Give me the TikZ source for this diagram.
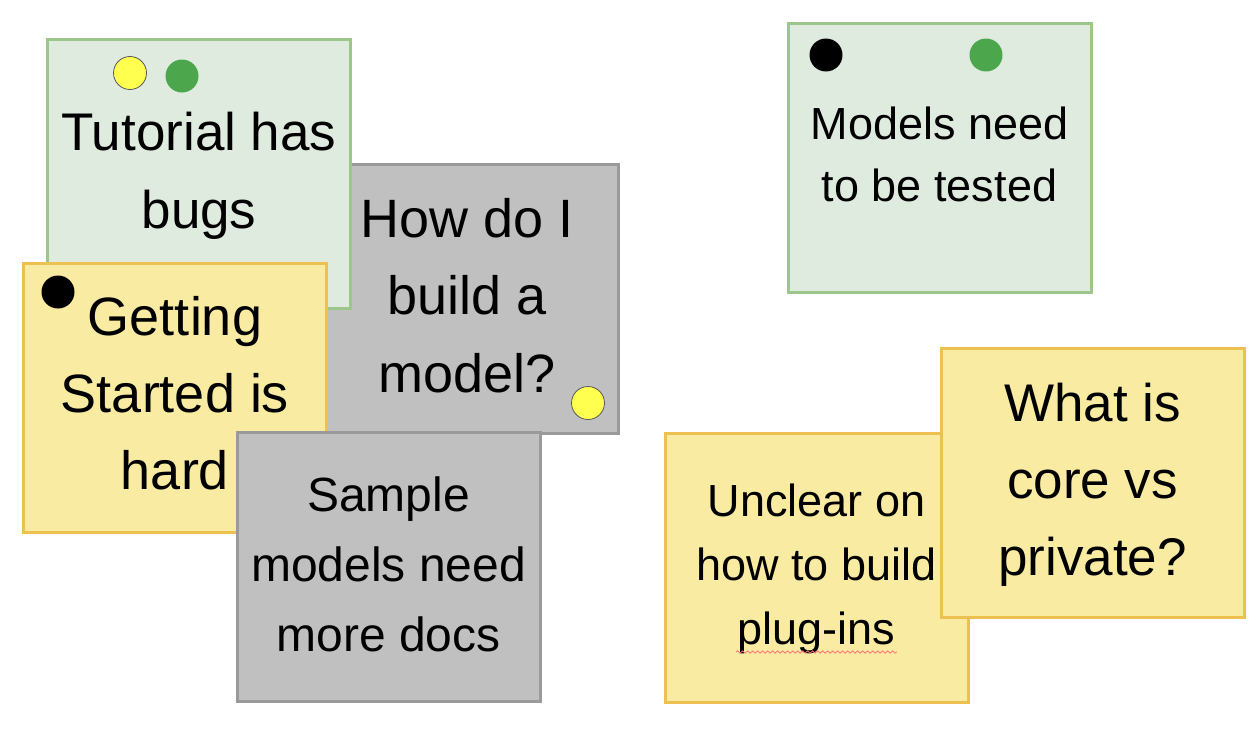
\documentclass[tikz,border=0pt]{standalone}
\usepackage{fontspec}
\setmainfont{Liberation Sans}
\usetikzlibrary{decorations.pathmorphing}
\definecolor{notegreen}{HTML}{E0EBE0}
\definecolor{notegreenedge}{HTML}{9DC68A}
\definecolor{noteyellow}{HTML}{F9EBA1}
\definecolor{noteyellowedge}{HTML}{ECC150}
\definecolor{notegray}{HTML}{C0C0C0}
\definecolor{notegrayedge}{HTML}{9A9A9A}
\definecolor{dotgreen}{HTML}{4CA64C}
\definecolor{dotyellow}{HTML}{FFFF50}
\newcommand{\noteline}[1]{\strut #1}
\tikzset{
  note/.style={rectangle, line width=3pt, minimum width=303pt, minimum height=269pt,
    inner sep=0pt, align=center, text=black},
  greennote/.style={note, draw=notegreenedge, fill=notegreen},
  yellownote/.style={note, draw=noteyellowedge, fill=noteyellow},
  graynote/.style={note, draw=notegrayedge, fill=notegray},
  dot/.style={circle, inner sep=0pt, minimum size=33pt},
  yellowdot/.style={dot, fill=dotyellow, draw=black!65, line width=0.8pt},
  greendot/.style={dot, fill=dotgreen},
  blackdot/.style={dot, fill=black},
  sz/.style 2 args={font=\fontsize{#1}{#2}\selectfont}
}
\begin{document}
\begin{tikzpicture}[x=1pt, y=-1pt]
\useasboundingbox (0,0) rectangle (1256,736);
% left cluster, back to front
\node[graynote, sz={54}{77.5}] (build) at (467,299)
  {\noteline{How do I}\\\noteline{build a}\\\noteline{model?}};
\node[greennote, sz={53}{78}] (tutorial) at (199,174)
  {\noteline{Tutorial has}\\\noteline{bugs}};
\node[yellownote, sz={54}{77}] (started) at (175,397.5)
  {\noteline{Getting}\\\noteline{Started is}\\\noteline{hard}};
\node[graynote, sz={48}{70}] (sample) at (388.5,567)
  {\noteline{Sample}\\\noteline{models need}\\\noteline{more docs}};
% right cluster
\node[greennote, sz={45}{62}] (tested) at (939.5,158)
  {\noteline{Models need}\\\noteline{to be tested}};
\node[yellownote, sz={45}{64}] (plugins) at (816.5,568)
  {\noteline{Unclear on}\\\noteline{how to build}\\\noteline{plug-ins}};
\node[yellownote, sz={53}{77}] (core) at (1092.5,483)
  {\noteline{What is}\\\noteline{core vs}\\\noteline{private?}};
% voting dots
\node[yellowdot] (tutorial-y) at (130,73) {};
\node[greendot] (tutorial-g) at (182,76) {};
\node[yellowdot] (build-y) at (588,403) {};
\node[blackdot] (started-k) at (58,292) {};
\node[blackdot] (tested-k) at (826,55) {};
\node[greendot] (tested-g) at (986,55) {};
% spell-check underline
\coordinate (sq-a) at (736,652);
\coordinate (sq-b) at (897,652);
\draw[decorate, decoration={snake, amplitude=1.2pt, segment length=5pt},
  red!55!white, line width=0.8pt] (sq-a) -- (sq-b);
\end{tikzpicture}
\end{document}
